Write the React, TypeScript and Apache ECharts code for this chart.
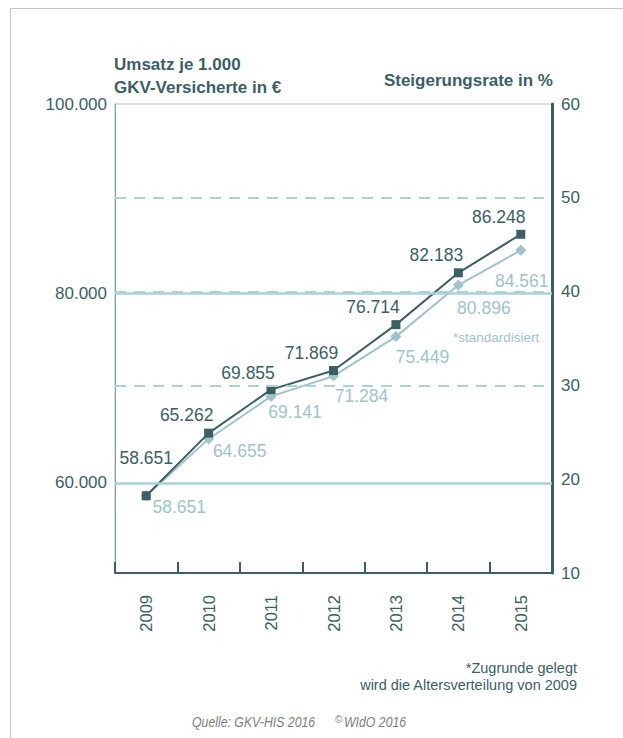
import React, { useEffect, useRef } from "react";
import * as echarts from "echarts";

const years = ["2009", "2010", "2011", "2012", "2013", "2014", "2015"];
const umsatz = [58651, 65262, 69855, 71869, 76714, 82183, 86248];
const umsatzStandardisiert = [58651, 64655, 69141, 71284, 75449, 80896, 84561];
const umsatzTicks = [60000, 80000, 100000];
const umsatzSolidGuides = [60000, 80000];
const umsatzMin = 50500;
const umsatzMax = 100000;
const rateMin = 10;
const rateMax = 60;
const rateStep = 10;
const rateDashedGuides = [30, 40, 50];

// label placement (styles, not data)
const darkLabelOffsets = [
  [0, -38],
  [-22, -18],
  [-23, -17],
  [-22, -18],
  [-23, -17.5],
  [-22, -17.5],
  [-22, -17.5],
];
const lightLabelOffsets = [
  [33, 11],
  [31, 12],
  [24, 16],
  [28, 19.5],
  [26.5, 20],
  [25.5, 23],
  [1, 31],
];

const DARK = "#3c5e65";
const LIGHT = "#9fc3c9";
const GUIDE = "#a9d2d9";
const FONT = "'Liberation Sans', Arial, Helvetica, sans-serif";

const fmtDe = (v: number) =>
  String(Math.round(v)).replace(/\B(?=(\d{3})+(?!\d))/g, ".");

export default function App() {
  const ref = useRef<HTMLDivElement>(null);

  useEffect(() => {
    if (!ref.current) return;
    const chart = echarts.init(ref.current, undefined, { renderer: "svg" });

    const option: any = {
      animation: false,
      backgroundColor: "#ffffff",
      textStyle: { fontFamily: FONT },
      grid: {
        left: 115,
        right: 71,
        top: 104,
        bottom: 165,
        show: true,
        borderColor: "#b3c5c8",
        borderWidth: 1,
      },
      xAxis: {
        type: "category",
        data: years,
        boundaryGap: true,
        axisLine: { onZero: false, lineStyle: { color: DARK, width: 2 } },
        axisTick: {
          show: true,
          inside: true,
          length: 11,
          lineStyle: { color: DARK, width: 2 },
        },
        axisLabel: {
          rotate: 90,
          fontSize: 16.5,
          color: DARK,
          margin: 22,
          padding: [10, 0, 0, 0],
          fontFamily: FONT,
        },
        splitLine: { show: false },
      },
      yAxis: [
        {
          type: "value",
          min: umsatzMin,
          max: umsatzMax,
          axisLine: { show: true, lineStyle: { color: "#7f9ca1", width: 1 } },
          axisTick: { show: false },
          splitLine: { show: false },
          axisLabel: {
            customValues: umsatzTicks,
            formatter: (v: number) => fmtDe(v),
            fontSize: 17,
            color: DARK,
            margin: 8,
            padding: [12, 0, 0, 0],
            fontFamily: FONT,
          },
        },
        {
          type: "value",
          position: "right",
          min: rateMin,
          max: rateMax,
          interval: rateStep,
          axisLine: { show: true, lineStyle: { color: DARK, width: 3 } },
          axisTick: { show: false },
          splitLine: { show: false },
          axisLabel: {
            fontSize: 17,
            color: DARK,
            margin: 9,
            padding: [6, 0, 0, 0],
            fontFamily: FONT,
          },
        },
      ],
      series: [
        {
          name: "guides",
          type: "line",
          yAxisIndex: 1,
          data: [],
          silent: true,
          markLine: {
            silent: true,
            symbol: "none",
            label: { show: false },
            lineStyle: { color: GUIDE, type: [11, 8], width: 2 },
            data: rateDashedGuides.map((v) => ({ yAxis: v })),
          },
        },
        {
          name: "standardisiert",
          type: "line",
          yAxisIndex: 0,
          z: 3,
          symbol: "diamond",
          symbolSize: 11,
          lineStyle: { color: LIGHT, width: 2 },
          itemStyle: { color: LIGHT },
          data: umsatzStandardisiert.map((v, i) => ({
            value: v,
            label: {
              show: true,
              position: "inside",
              offset: lightLabelOffsets[i],
              formatter: () => fmtDe(v),
              fontSize: 17.5,
              color: LIGHT,
              fontFamily: FONT,
            },
          })),
          markLine: {
            silent: true,
            symbol: "none",
            label: { show: false },
            lineStyle: { color: GUIDE, type: "solid", width: 2.5 },
            data: umsatzSolidGuides.map((v) => ({ yAxis: v })),
          },
        },
        {
          name: "Umsatz",
          type: "line",
          yAxisIndex: 0,
          z: 4,
          symbol: "rect",
          symbolSize: 9,
          lineStyle: { color: DARK, width: 2 },
          itemStyle: { color: DARK },
          data: umsatz.map((v, i) => ({
            value: v,
            label: {
              show: true,
              position: "inside",
              offset: darkLabelOffsets[i],
              formatter: () => fmtDe(v),
              fontSize: 17.5,
              color: DARK,
              fontFamily: FONT,
            },
          })),
        },
      ],
      graphic: [
        {
          type: "rect",
          silent: true,
          shape: { x: 10.5, y: 8.5, width: 800, height: 900 },
          style: { fill: "none", stroke: "#c4c4c4", lineWidth: 1 },
          z: -10,
        },
        {
          type: "text",
          x: 114,
          y: 53,
          style: {
            text: "Umsatz je 1.000\nGKV-Versicherte in €",
            font: `bold 17px ${FONT}`,
            fill: DARK,
            lineHeight: 23,
            textAlign: "left",
            textVerticalAlign: "top",
          },
        },
        {
          type: "text",
          x: 553,
          y: 80,
          style: {
            text: "Steigerungsrate in %",
            font: `bold 17px ${FONT}`,
            fill: DARK,
            textAlign: "right",
            textVerticalAlign: "middle",
          },
        },
        {
          type: "text",
          x: 453,
          y: 337,
          style: {
            text: "*standardisiert",
            font: `13.5px ${FONT}`,
            fill: LIGHT,
            textAlign: "left",
            textVerticalAlign: "middle",
          },
        },
        {
          type: "text",
          x: 577,
          y: 668,
          style: {
            text: "*Zugrunde gelegt",
            font: `14.5px ${FONT}`,
            fill: DARK,
            textAlign: "right",
            textVerticalAlign: "middle",
          },
        },
        {
          type: "text",
          x: 577,
          y: 684.5,
          style: {
            text: "wird die Altersverteilung von 2009",
            font: `14.5px ${FONT}`,
            fill: DARK,
            textAlign: "right",
            textVerticalAlign: "middle",
          },
        },
        {
          type: "text",
          x: 192,
          y: 722,
          scaleX: 0.82,
          style: {
            text: "Quelle: GKV-HIS 2016",
            font: `italic 15px ${FONT}`,
            fill: "#7d7d7d",
            textAlign: "left",
            textVerticalAlign: "middle",
          },
        },
        {
          type: "text",
          x: 335,
          y: 719,
          style: {
            text: "©",
            font: `10px ${FONT}`,
            fill: "#7d7d7d",
            textAlign: "left",
            textVerticalAlign: "middle",
          },
        },
        {
          type: "text",
          x: 344,
          y: 722,
          scaleX: 0.82,
          style: {
            text: "WIdO 2016",
            font: `italic 15px ${FONT}`,
            fill: "#7d7d7d",
            textAlign: "left",
            textVerticalAlign: "middle",
          },
        },
      ],
    };

    chart.setOption(option);
    return () => {
      chart.dispose();
    };
  }, []);

  return (
    <div
      ref={ref}
      style={{
        position: "fixed",
        left: 0,
        top: 0,
        width: 623,
        height: 738,
        background: "#ffffff",
      }}
    />
  );
}
